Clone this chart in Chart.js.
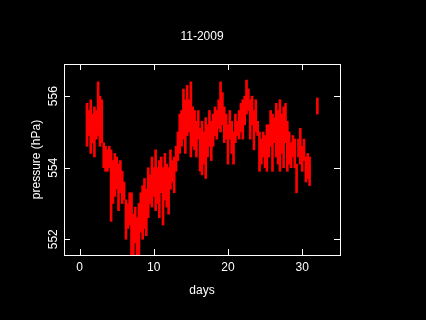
<!DOCTYPE html>
<html>
<head>
<meta charset="utf-8">
<script src="https://cdn.jsdelivr.net/npm/chart.js@4/dist/chart.umd.min.js"></script>
<style>
html,body{margin:0;padding:0;background:#000;overflow:hidden}
canvas{display:block;background:#000}
</style>
</head>
<body>
<canvas id="c" width="426" height="320"></canvas>
<script>
// ---- chart texts ----
const chartTitle = '11-2009';
const xTitle = 'days';
const yTitle = 'pressure (hPa)';
const xTickValues = [0, 10, 20, 30];
const yTickValues = [552, 554, 556];

// ---- data: time (days) and pressure range (hPa) seen in each quarter-day slot ----
const days = [
  1,1.25,1.5,1.75, 2,2.25,2.5,2.75, 3,3.25,3.5,3.75, 4,4.25,4.5,4.75,
  5,5.25,5.5,5.75, 6,6.25,6.5,6.75, 7,7.25,7.5,7.75, 8,8.25,8.5,8.75,
  9,9.25,9.5,9.75, 10,10.25,10.5,10.75, 11,11.25,11.5,11.75, 12,12.25,12.5,12.75,
  13,13.25,13.5,13.75, 14,14.25,14.5,14.75, 15,15.25,15.5,15.75, 16,16.25,16.5,16.75,
  17,17.25,17.5,17.75, 18,18.25,18.5,18.75, 19,19.25,19.5,19.75, 20,20.25,20.5,20.75,
  21,21.25,21.5,21.75, 22,22.25,22.5,22.75, 23,23.25,23.5,23.75, 24,24.25,24.5,24.75,
  25,25.25,25.5,25.75, 26,26.25,26.5,26.75, 27,27.25,27.5,27.75, 28,28.25,28.5,28.75,
  29,29.25,29.5,29.75, 30,30.25,30.5,30.75, 31, 32.05
];
const pLow = [
  554.6,554.9,554.4,554.7, 554.3,554.8,554.9,554.6, 554.7,554.0,553.9,553.9, 554.0,552.5,553.0,553.2,
  553.4,552.8,553.3,553.0, 553.1,552.0,552.3,552.4, 551.5,551.5,551.9,551.5, 551.5,552.2,552.0,552.3,
  552.1,552.6,553.0,552.9, 553.2,552.8,553.0,552.6, 553.3,552.4,553.1,552.9, 552.7,553.4,553.6,553.3,
  553.9,554.2,554.4,554.6, 554.8,554.4,554.9,555.0, 554.3,554.6,554.5,554.3, 554.8,553.9,553.8,554.1,
  553.7,554.3,554.6,554.2, 554.6,554.9,554.8,555.1, 555.0,555.2,554.7,554.8, 554.1,554.8,554.4,554.1,
  554.7,554.9,554.8,555.0, 554.8,555.2,555.5,555.6, 554.8,555.2,554.5,555.0, 554.9,553.9,554.1,554.3,
  554.0,553.9,554.3,554.6, 553.9,554.7,554.3,554.1, 553.9,554.4,554.0,554.7, 553.9,554.1,554.0,554.3,
  554.0,553.3,554.3,554.1, 553.9,554.2,553.6,553.7, 553.5, 555.5
];
const pHigh = [
  555.8,555.6,555.9,555.5, 555.7,555.6,556.4,556.0, 555.9,554.7,554.6,554.5, 554.6,554.5,554.2,554.4,
  554.3,554.1,554.2,553.9, 553.6,553.1,553.0,553.3, 553.3,552.7,552.9,552.6, 553.0,553.3,553.5,553.7,
  553.4,554.0,553.8,554.3, 554.0,554.5,554.0,554.2, 554.3,554.0,554.4,554.1, 554.0,554.5,554.2,554.3,
  554.6,555.0,555.5,555.6, 556.2,555.9,556.3,555.9, 556.4,555.7,555.6,555.3, 555.6,555.1,555.3,555.0,
  555.4,555.2,555.6,555.3, 555.5,555.7,555.6,555.9, 556.4,556.1,555.7,555.5, 555.2,555.6,555.3,555.0,
  555.5,555.3,555.6,555.8, 555.9,556.0,556.45,556.2, 555.9,556.0,555.6,555.9, 555.3,555.0,554.8,555.0,
  554.9,555.2,555.2,555.6, 555.5,555.4,555.8,555.6, 555.9,555.5,555.7,555.8, 555.3,555.0,554.7,554.9,
  554.8,554.1,554.8,555.1, 554.6,554.8,554.3,554.4, 554.3, 555.95
];

const points = days.map((d, i) => ({ x: d, y: [pLow[i], pHigh[i]] }));

const FONT = '12px "Liberation Sans", Arial, sans-serif';

const framePlugin = {
  id: 'pgframe',
  afterDraw(chart) {
    const { ctx, chartArea: a, scales } = chart;
    const xs = scales.x, ys = scales.y;
    ctx.save();
    ctx.strokeStyle = '#ffffff';
    ctx.lineWidth = 1;
    ctx.strokeRect(a.left + 0.5, a.top + 0.5, a.right - a.left, a.bottom - a.top);
    const tl = 6;
    ctx.beginPath();
    xTickValues.forEach(v => {
      const px = Math.round(xs.getPixelForValue(v)) + 0.5;
      ctx.moveTo(px, a.bottom); ctx.lineTo(px, a.bottom - tl);
      ctx.moveTo(px, a.top); ctx.lineTo(px, a.top + tl);
    });
    yTickValues.forEach(v => {
      const py = Math.round(ys.getPixelForValue(v)) + 0.5;
      ctx.moveTo(a.left, py); ctx.lineTo(a.left + tl, py);
      ctx.moveTo(a.right, py); ctx.lineTo(a.right - tl, py);
    });
    ctx.stroke();

    ctx.fillStyle = '#ffffff';
    ctx.font = FONT;
    ctx.textAlign = 'center';
    ctx.textBaseline = 'alphabetic';
    xTickValues.forEach(v => {
      ctx.fillText(String(v), xs.getPixelForValue(v), a.bottom + 16);
    });
    ctx.fillText(xTitle, (a.left + a.right) / 2, a.bottom + 39);

    yTickValues.forEach(v => {
      ctx.save();
      ctx.translate(a.left - 7, ys.getPixelForValue(v));
      ctx.rotate(-Math.PI / 2);
      ctx.fillText(String(v), 0, 0);
      ctx.restore();
    });
    ctx.save();
    ctx.translate(a.left - 24.5, (a.top + a.bottom) / 2);
    ctx.rotate(-Math.PI / 2);
    ctx.fillText(yTitle, 0, 0);
    ctx.restore();
    ctx.restore();
  }
};

new Chart(document.getElementById('c'), {
  type: 'bar',
  data: {
    datasets: [{
      label: 'pressure',
      data: points,
      backgroundColor: '#ff0000',
      borderWidth: 0,
      barThickness: 2,
      grouped: false
    }]
  },
  options: {
    responsive: false,
    devicePixelRatio: 1,
    animation: false,
    events: [],
    layout: { padding: { left: 64, right: 86, top: 0, bottom: 65 } },
    plugins: {
      legend: { display: false },
      tooltip: { enabled: false },
      title: {
        display: true,
        text: chartTitle,
        color: '#ffffff',
        font: { family: '"Liberation Sans", Arial, sans-serif', size: 12, weight: 'normal', lineHeight: 1.2 },
        padding: { top: 29, bottom: 20.6 }
      }
    },
    scales: {
      x: { type: 'linear', min: -2.1, max: 35.1, offset: false, display: false },
      y: { type: 'linear', min: 551.56, max: 556.9, display: false }
    }
  },
  plugins: [framePlugin]
});
</script>
</body>
</html>
